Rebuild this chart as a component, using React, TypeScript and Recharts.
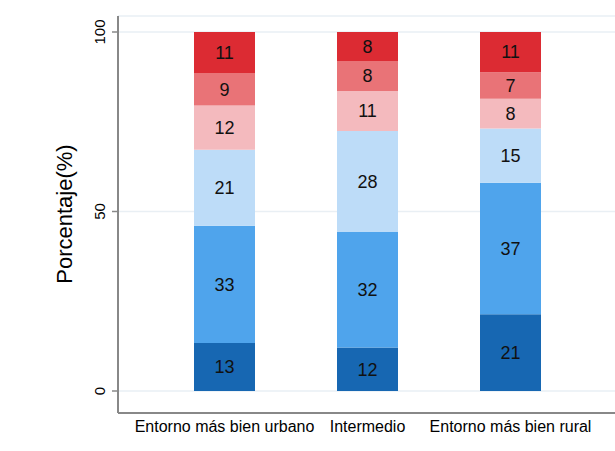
import { BarChart, Bar, XAxis, YAxis, CartesianGrid, LabelList } from "recharts";

const categories = ["Entorno más bien urbano", "Intermedio", "Entorno más bien rural"];

// stacked shares (%), bottom to top
const s1 = [13.4, 12.1, 21.4];
const s2 = [32.6, 32.2, 36.6];
const s3 = [21.2, 28.1, 15.1];
const s4 = [12.3, 11.2, 8.3];
const s5 = [9.1, 8.3, 7.4];
const s6 = [11.4, 8.1, 11.2];

const yTicks = [0, 50, 100];

const series = [
  { key: "s1", values: s1, color: "#1767b2" },
  { key: "s2", values: s2, color: "#4fa4ec" },
  { key: "s3", values: s3, color: "#bddcf8" },
  { key: "s4", values: s4, color: "#f4babe" },
  { key: "s5", values: s5, color: "#e97377" },
  { key: "s6", values: s6, color: "#dc2b33" },
];

const data = categories.map((name, i) => {
  const row: Record<string, string | number> = { name };
  series.forEach((s) => (row[s.key] = s.values[i]));
  return row;
});

const FONT = "'Liberation Sans', Arial, sans-serif";

const YTick = (props: any) => {
  const { x, y, payload } = props;
  const bx = x - 5;
  return (
    <text
      x={bx}
      y={y}
      transform={`rotate(-90, ${bx}, ${y})`}
      textAnchor="middle"
      fontSize={15}
      fontFamily={FONT}
      fill="#000"
    >
      {payload.value}
    </text>
  );
};

const YLabel = () => (
  <text
    x={72}
    y={214}
    transform="rotate(-90, 72, 214)"
    textAnchor="middle"
    fontSize={22}
    fontFamily={FONT}
    fill="#000"
  >
    Porcentaje(%)
  </text>
);

export default function App() {
  return (
    <div style={{ position: "absolute", left: 0, top: 0, background: "#fff" }}>
      <BarChart
        width={615}
        height={451}
        data={data}
        margin={{ top: 16, right: 0, bottom: 0, left: 0 }}
      >
        <CartesianGrid vertical={false} stroke="#e9eff4" strokeWidth={1.5} />
        <XAxis
          dataKey="name"
          height={38}
          padding={{ left: 35, right: 33 }}
          tickLine={false}
          axisLine={{ stroke: "#888", strokeWidth: 2 }}
          tick={{ fontSize: 16, fill: "#000", fontFamily: FONT }}
          interval={0}
        />
        <YAxis
          width={118}
          domain={[0, 100]}
          ticks={yTicks}
          padding={{ top: 16, bottom: 22 }}
          tickSize={6}
          tickLine={{ stroke: "#888", strokeWidth: 1.5 }}
          axisLine={{ stroke: "#888", strokeWidth: 2 }}
          tick={<YTick />}
          label={<YLabel />}
        />
        {series.map((s) => (
          <Bar
            key={s.key}
            dataKey={s.key}
            stackId="a"
            fill={s.color}
            barSize={61}
            isAnimationActive={false}
          >
            <LabelList
              dataKey={s.key}
              position="center"
              formatter={(v: any) => Math.round(Number(v))}
              fill="#111"
              fontSize={18}
              fontFamily={FONT}
            />
          </Bar>
        ))}
      </BarChart>
    </div>
  );
}
